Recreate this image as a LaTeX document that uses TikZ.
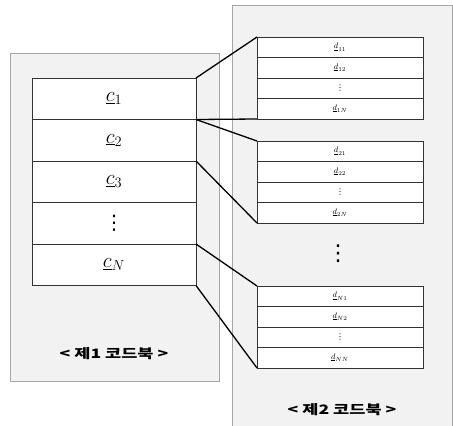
\documentclass[tikz,border=0pt]{standalone}
\usepackage{fontspec}
\newfontfamily\kr{Noto Sans CJK KR}
\newfontfamily\dv{DejaVu Sans}
\newcommand{\tvdots}{{\dv ⋮}}
\begin{document}
\begin{tikzpicture}[x=1pt,y=-1pt,
  panel/.style={draw=gray!70,fill=gray!10,line width=0.8pt},
  bigcell/.style={draw=black!80,fill=white,line width=0.7pt,inner sep=0pt,outer sep=0pt,minimum width=164pt,minimum height=41.5pt,font=\fontsize{20}{24}\selectfont},
  smallcell/.style={draw=black!80,fill=white,line width=0.7pt,inner sep=0pt,outer sep=0pt,minimum width=166pt,minimum height=20.5pt,font=\fontsize{8}{9}\selectfont},
  link/.style={line width=1.3pt,black},
  krlabel/.style={font=\kr\bfseries\fontsize{13}{15}\selectfont,xscale=1.35}]
\useasboundingbox (0,0) rectangle (453,426);
% panels
\fill[gray!10] (232,5) rectangle (452,430);
\draw[gray!70,line width=0.8pt] (232,430) -- (232,5) -- (452,5) -- (452,430);
\draw[panel] (10,53) rectangle (219,381);
% left table
\node[bigcell] (L1) at (114,98.75) {$\underline{c}_1$};
\node[bigcell] (L2) at (114,140.25) {$\underline{c}_2$};
\node[bigcell] (L3) at (114,181.75) {$\underline{c}_3$};
\node[bigcell] (L4) at (114,223.25) {\tvdots};
\node[bigcell] (L5) at (114,264.75) {$\underline{c}_N$};
\node[krlabel] (K1) at (114,354) {< 제1 코드북 >};
% right tables
\node[smallcell] (A1) at (340,47.25) {$\underline{d}_{11}$};
\node[smallcell] (A2) at (340,67.75) {$\underline{d}_{12}$};
\node[smallcell] (A3) at (340,88.25) {\tvdots};
\node[smallcell] (A4) at (340,108.75) {$\underline{d}_{1N}$};
\node[smallcell] (B1) at (340,151.25) {$\underline{d}_{21}$};
\node[smallcell] (B2) at (340,171.75) {$\underline{d}_{22}$};
\node[smallcell] (B3) at (340,192.25) {\tvdots};
\node[smallcell] (B4) at (340,212.75) {$\underline{d}_{2N}$};
\node[smallcell] (C1) at (340,296.25) {$\underline{d}_{N1}$};
\node[smallcell] (C2) at (340,316.75) {$\underline{d}_{N2}$};
\node[smallcell] (C3) at (340,337.25) {\tvdots};
\node[smallcell] (C4) at (340,357.75) {$\underline{d}_{NN}$};
\node[font=\fontsize{22}{26}\selectfont] (VD) at (338,254) {\tvdots};
\node[krlabel] (K2) at (342,410) {< 제2 코드북 >};
% connectors
\draw[link] (L1.north east) -- (A1.north west);
\draw[link] (L1.south east) -- (A4.south west);
\draw[link] (L1.south east) -- (B1.north west);
\draw[link] (L2.south east) -- (B4.south west);
\draw[link] (L4.south east) -- (C1.north west);
\draw[link] (L5.south east) -- (C4.south west);
\end{tikzpicture}
\end{document}
